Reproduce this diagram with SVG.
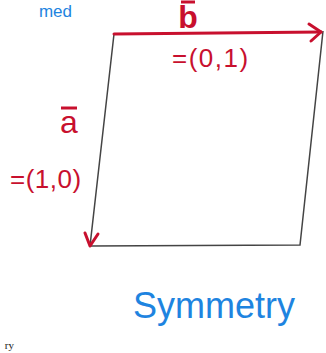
<svg xmlns="http://www.w3.org/2000/svg" width="326" height="353" viewBox="0 0 326 353">
  <style>
    .red { fill: #c8102e; font-family: "Liberation Sans", Arial, sans-serif; }
    .blue { fill: #1e84e0; font-family: "Liberation Sans", Arial, sans-serif; }
    .edge { stroke: #444; stroke-width: 1.5; fill: none; }
    .redline { stroke: #c8102e; stroke-width: 3; fill: none; stroke-linecap: round; stroke-linejoin: round; }
  </style>
  <rect width="326" height="353" fill="#ffffff"/>
  <g id="parallelogram">
    <path class="edge" d="M 323 31 L 300 245 L 90 246 L 114 34"/>
  </g>
  <g id="connectors">
    <path class="redline" d="M 114 34 L 321 32"/>
    <path class="redline" d="M 309 24 L 321 32 L 311 41"/>
    <path class="redline" d="M 85 233 L 90 246 L 98 234"/>
  </g>
  <g id="label-b">
    <line x1="181" y1="2" x2="195" y2="2" stroke="#c8102e" stroke-width="3"/>
    <text class="red" x="188" y="28" font-size="32" font-weight="bold" text-anchor="middle">b</text>
  </g>
  <g id="label-b-value">
    <text class="red" x="172" y="67" font-size="26" letter-spacing="1.5">=(0,1)</text>
  </g>
  <g id="label-a">
    <line x1="61" y1="108" x2="77" y2="108" stroke="#c8102e" stroke-width="3"/>
    <text class="red" x="69" y="133" font-size="32" text-anchor="middle">a</text>
  </g>
  <g id="label-a-value">
    <text class="red" x="10" y="188" font-size="26" letter-spacing="0.5">=(1,0)</text>
  </g>
  <g id="symmetry">
    <text class="blue" x="214" y="318" font-size="36" text-anchor="middle">Symmetry</text>
  </g>
  <g id="cutoff-top">
    <text class="blue" x="72" y="17" font-size="17" text-anchor="end">med</text>
  </g>
  <g id="cutoff-bottom">
    <text x="14" y="349" font-size="11" text-anchor="end" fill="#222" font-family="Liberation Serif, serif">ry</text>
  </g>
</svg>
